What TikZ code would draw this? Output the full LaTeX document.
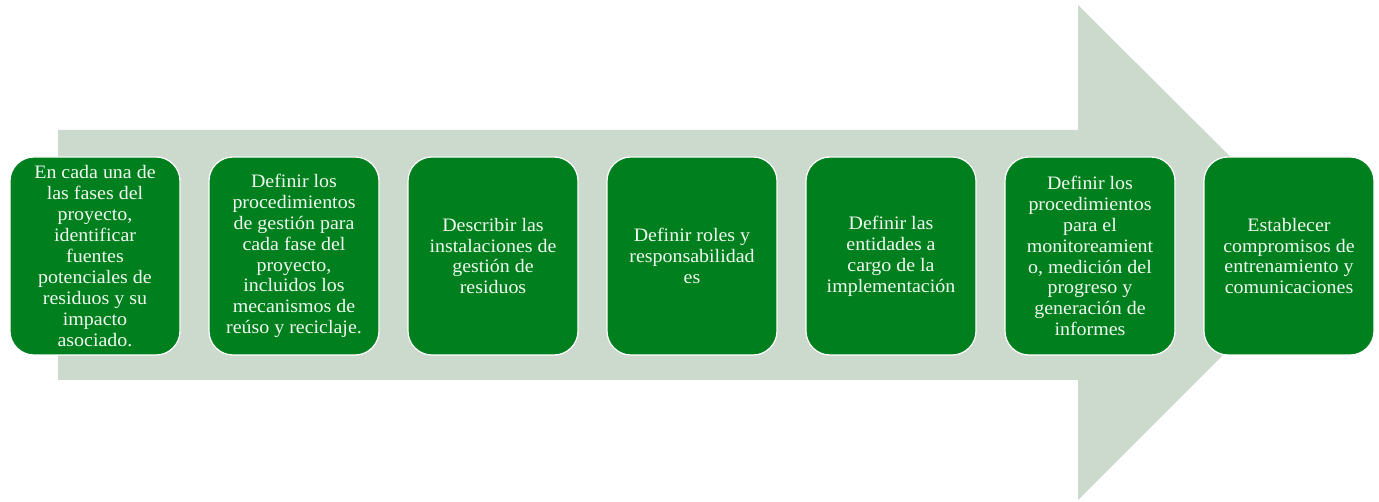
\documentclass[tikz,border=0pt]{standalone}
\usepackage{fontspec}
\setmainfont{Liberation Serif}[FakeStretch=1.05]
\usepackage{tikz}
\usetikzlibrary{positioning}
\definecolor{arrowgray}{RGB}{204,218,206}
\definecolor{stepgreen}{RGB}{0,127,30}
\definecolor{steptext}{RGB}{240,250,240}

\begin{document}
\begin{tikzpicture}[
  x=1pt, y=1pt,
  fase/.style={draw=white, line width=1.2pt, fill=stepgreen, rounded corners=24pt,
    minimum width=170pt, minimum height=198pt, inner sep=2pt, outer sep=0pt,
    align=center, text=steptext, font=\fontsize{19}{20.9}\selectfont}
  ]
  \useasboundingbox (0,0) rectangle (1379,501);
  % big arrow behind the steps
  \fill[arrowgray] (58,371) -- (1078,371) -- (1078,496) -- (1326,249)
    -- (1078,1) -- (1078,121) -- (58,121) -- cycle;
  \node[fase] (f1) at (95,245) {En cada una de\\las fases del\\proyecto,\\identificar\\fuentes\\potenciales de\\residuos y su\\impacto\\asociado.};
  \node[fase, right=29pt of f1] (f2) {Definir los\\procedimientos\\de gestión para\\cada fase del\\proyecto,\\incluidos los\\mecanismos de\\reúso y reciclaje.};
  \node[fase, right=29pt of f2] (f3) {Describir las\\instalaciones de\\gestión de\\residuos};
  \node[fase, right=29pt of f3] (f4) {Definir roles y\\responsabilidad\\es};
  \node[fase, right=29pt of f4] (f5) {Definir las\\entidades a\\cargo de la\\implementación};
  \node[fase, right=29pt of f5] (f6) {Definir los\\procedimientos\\para el\\monitoreamient\\o, medición del\\progreso y\\generación de\\informes};
  \node[fase, right=29pt of f6] (f7) {Establecer\\compromisos de\\entrenamiento y\\comunicaciones};
\end{tikzpicture}
\end{document}
